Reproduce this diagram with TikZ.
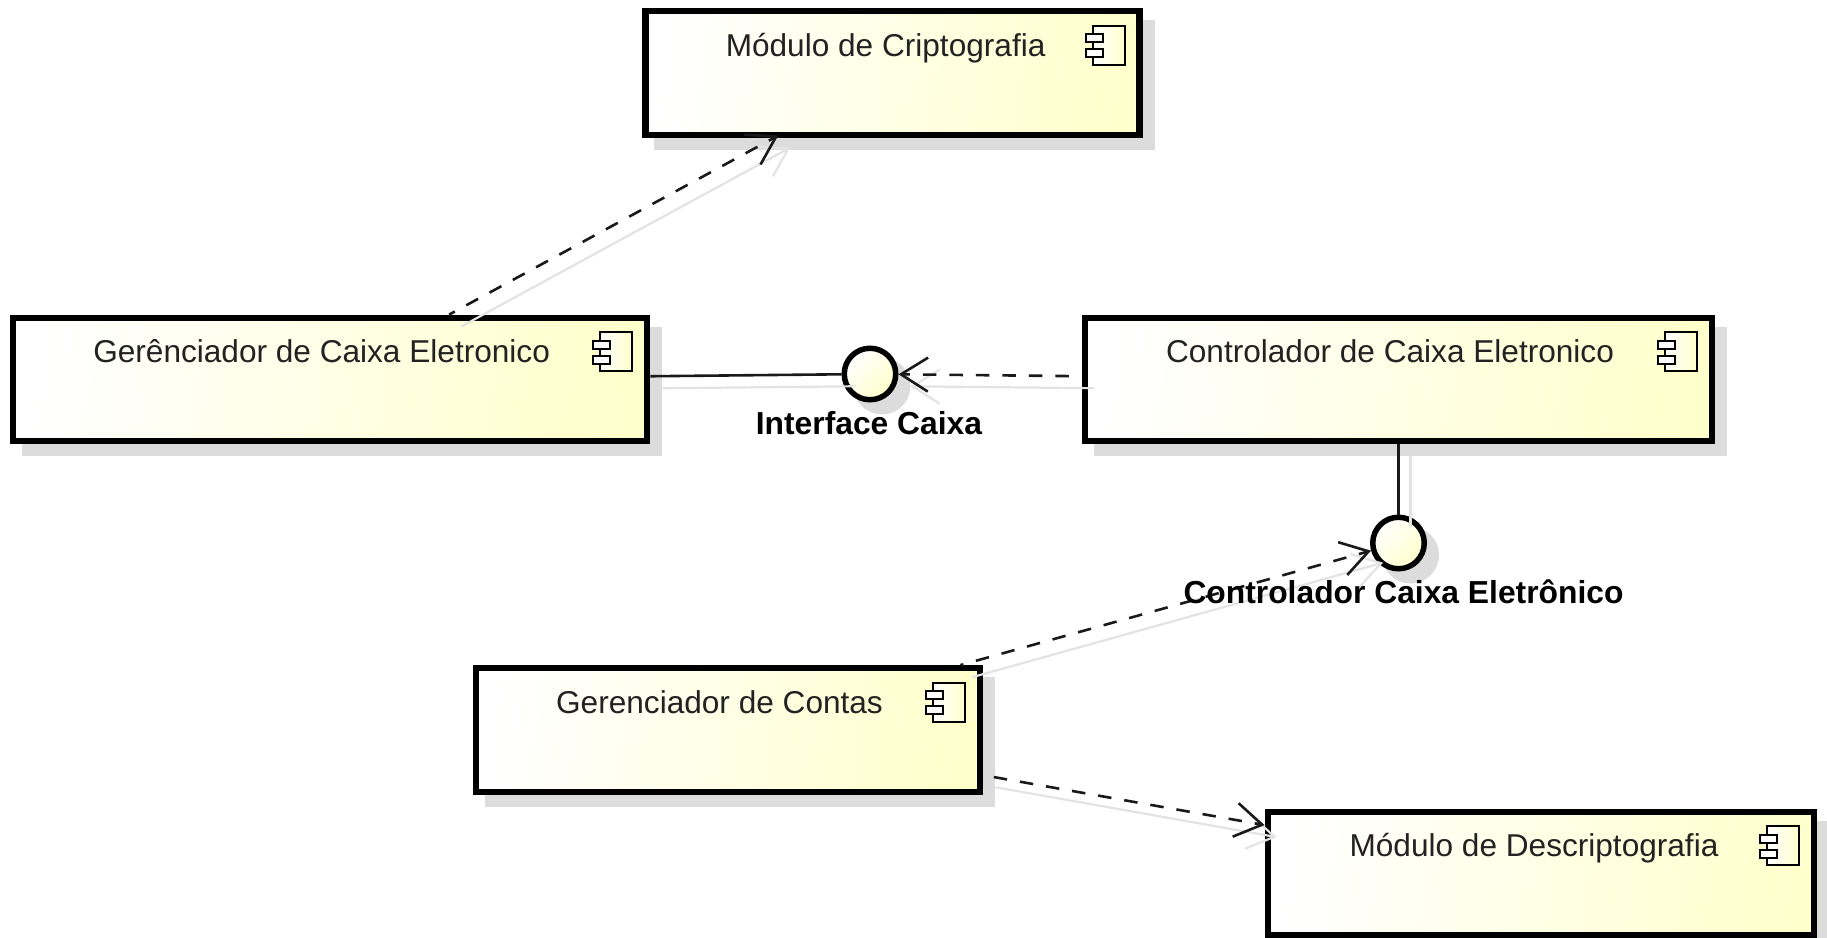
\documentclass[tikz,border=0pt]{standalone}
\usepackage{fontspec}
\setmainfont{Liberation Sans}
\usetikzlibrary{arrows.meta,shadows}
\definecolor{compY}{HTML}{FFFFCC}
\definecolor{compM}{HTML}{FFFFD6}
\definecolor{shadowC}{HTML}{DCDCDC}
\definecolor{ghostC}{HTML}{E3E3E3}
\definecolor{connC}{HTML}{1A1A1A}
\definecolor{textC}{HTML}{222222}
\tikzset{
  comp/.style={draw=black,line width=6.3pt,rectangle,inner sep=0pt,
    left color=white,middle color=compM,right color=compY,shading angle=83,
    minimum height=123.5pt,
    general shadow={shadow xshift=12pt,shadow yshift=-12pt,fill=shadowC,draw=shadowC,line width=6.3pt}},
  iface/.style={draw=black,line width=5.5pt,circle,inner sep=0pt,minimum size=51.5pt,
    left color=white,right color=compY,shading angle=45,
    general shadow={shadow xshift=12pt,shadow yshift=-12pt,fill=shadowC,draw=shadowC,line width=5.5pt}},
  ctext/.style={anchor=base,font=\fontsize{31.6}{36}\selectfont,text=textC,inner sep=0pt},
  itext/.style={anchor=base,font=\fontsize{31.8}{36}\selectfont\bfseries,text=black,inner sep=0pt},
  assoc/.style={draw=connC,line width=2.6pt},
  barb/.style={-{Straight Barb[length=27pt,width=34pt,line width=2.6pt,line join=miter]}},
  dep/.style={draw=connC,line width=2.6pt,barb},
  dep phase/.style={dash pattern=on 13.5pt off 13pt,dash phase=#1},
  ghost/.style={draw=ghostC,line width=2.2pt,transform canvas={xshift=12pt,yshift=-12pt}},
  ghostdep/.style={ghost,-{Straight Barb[length=27pt,width=34pt,line width=2.2pt,line join=miter]}},
  pics/compicon/.style={code={
    \draw[line width=2pt,draw=black,left color=white,right color=compY]
      (-50,17.5) rectangle (-18,56.5);
    \draw[line width=2pt,draw=black,fill=white] (-57,26) rectangle (-40,34);
    \draw[line width=2pt,draw=black,fill=white] (-57,41) rectangle (-40,49);
  }}
}
\begin{document}
\begin{tikzpicture}[x=1pt,y=-1pt]
\useasboundingbox (0,0) rectangle (1827,937);
\fill[white] (0,0) rectangle (1827,937);
% components
\node[comp,minimum width=494pt] (cripto) at (892.5,73) {};
\node[comp,minimum width=634.5pt] (gerCaixa) at (330,379.5) {};
\node[comp,minimum width=627pt] (ctrlCaixa) at (1398.5,379.5) {};
\node[comp,minimum width=504.5pt] (gerContas) at (728,730) {};
\node[comp,minimum width=546.5pt] (descripto) at (1541,873.5) {};
% interfaces
\node[iface] (ifCaixa) at (870,374) {};
\node[iface] (ifCtrl) at (1398.5,543) {};
% icons
\pic at (cripto.north east) {compicon};
\pic at (gerCaixa.north east) {compicon};
\pic at (ctrlCaixa.north east) {compicon};
\pic at (gerContas.north east) {compicon};
\pic at (descripto.north east) {compicon};
% ghost connectors
\draw[ghost] (gerCaixa) -- (ifCaixa);
\draw[ghostdep] (ctrlCaixa) -- (ifCaixa);
\draw[ghost] (ctrlCaixa) -- (ifCtrl);
\draw[ghostdep,shorten >=-5pt] (gerCaixa) -- (cripto);
\draw[ghostdep] (gerContas) -- (ifCtrl);
\draw[ghostdep] (gerContas) -- (descripto);
% connectors
\draw[assoc] (gerCaixa) -- (ifCaixa);
\draw[assoc] (ctrlCaixa) -- (ifCtrl);
\draw[dep,dep phase=7,shorten >=-5pt] (gerCaixa) -- (cripto);
\draw[dep,dep phase=13.5] (ctrlCaixa) -- (ifCaixa);
\draw[dep,dep phase=10.4] (gerContas) -- (ifCtrl);
\draw[dep,dep phase=16] (gerContas) -- (descripto);
% texts
\node[ctext] (t1) at (885.6,56) {Módulo de Criptografia};
\node[ctext] (t2) at (321.6,362) {Gerênciador de Caixa Eletronico};
\node[ctext] (t3) at (1390,362) {Controlador de Caixa Eletronico};
\node[ctext] (t4) at (719.5,713) {Gerenciador de Contas};
\node[ctext] (t5) at (1534,856) {Módulo de Descriptografia};
\node[itext] (t6) at (869,434.6) {Interface Caixa};
\node[itext] (t7) at (1403.5,603.5) {Controlador Caixa Eletrônico};
\end{tikzpicture}
\end{document}
